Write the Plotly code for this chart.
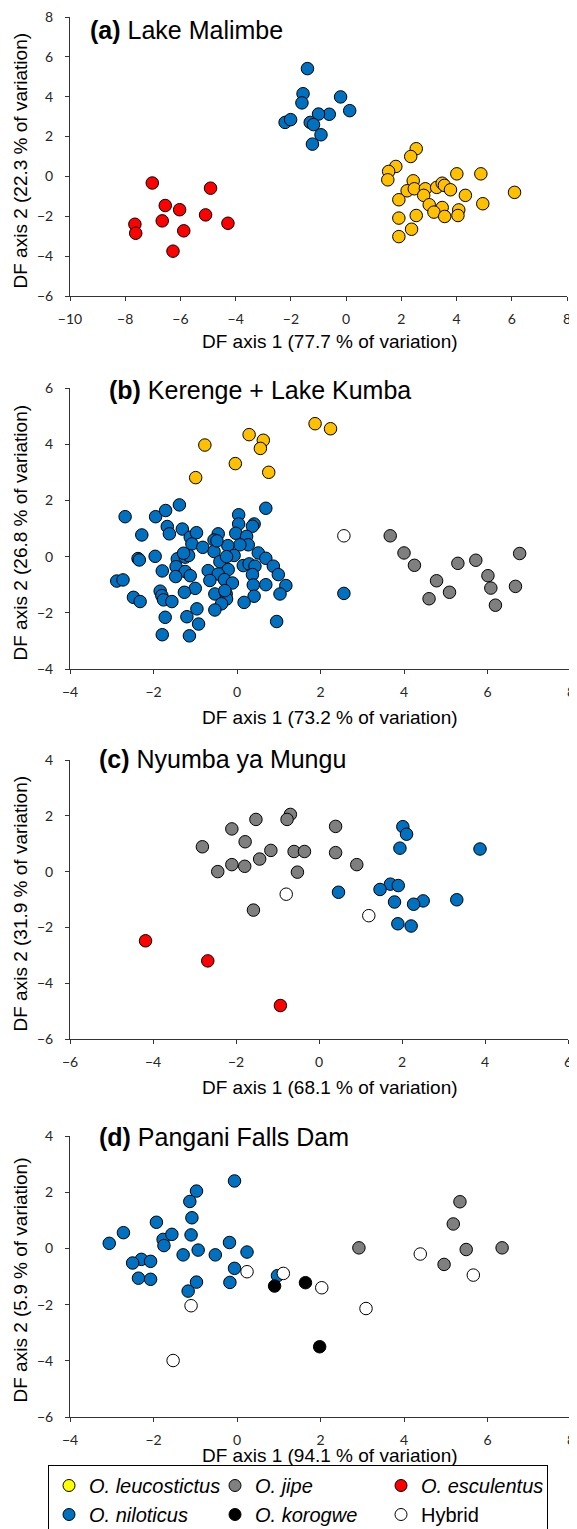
import plotly.graph_objects as go

# browser page keeps an 8 px body margin; the figure is sized so it fits the 577x1529 window
OFF = 8
W, H = 577 - OFF, 1529 - OFF

# ---------------- data ----------------
# Panel (a) Lake Malimbe
a_esc_x = [-7.02, -4.91, -6.55, -6.03, -5.09, -6.66, -4.28, -7.65, -5.88, -7.62, -6.27]
a_esc_y = [-0.33, -0.59, -1.46, -1.67, -1.93, -2.23, -2.35, -2.40, -2.73, -2.85, -3.75]
a_nil_x = [-1.40, -1.56, -1.60, -0.20, 0.13, -0.61, -1.00, -2.21, -2.01, -1.30, -1.18, -0.91, -1.22]
a_nil_y = [5.41, 4.15, 3.69, 3.99, 3.30, 3.12, 3.13, 2.71, 2.85, 2.71, 2.60, 2.09, 1.62]
a_leu_x = [2.54, 2.34, 1.80, 1.54, 1.51, 2.43, 4.01, 4.88, 2.21, 2.47, 2.87, 3.28, 3.48, 3.56, 3.78,
           4.32, 6.10, 2.81, 1.91, 3.01, 4.95, 3.48, 4.08, 3.18, 2.54, 3.57, 4.05, 1.91, 2.37, 1.91]
a_leu_y = [1.39, 1.00, 0.50, 0.25, -0.17, -0.22, 0.13, 0.13, -0.72, -0.62, -0.62, -0.55, -0.34, -0.45, -0.67,
           -0.95, -0.80, -0.95, -1.17, -1.42, -1.37, -1.56, -1.68, -1.79, -1.96, -2.01, -1.96, -2.09, -2.65, -3.02]

# Panel (b) Kerenge + Lake Kumba
b_leu_x = [1.87, 2.24, 0.29, 0.63, 0.56, -0.77, -0.04, 0.76, -0.99]
b_leu_y = [4.73, 4.55, 4.34, 4.14, 3.85, 3.97, 3.31, 3.00, 2.81]
b_hyb_x = [2.56]
b_hyb_y = [0.74]
b_jip_x = [3.67, 4.00, 4.25, 4.78, 4.60, 5.09, 5.29, 5.72, 6.01, 6.08, 6.19, 6.67, 6.77]
b_jip_y = [0.74, 0.13, -0.31, -0.86, -1.50, -1.27, -0.24, -0.13, -0.68, -1.12, -1.73, -1.06, 0.11]
b_nil_x = [-2.68, -1.95, -1.71, -1.38, -1.67, -1.62, -2.28, -1.31, -1.12, -0.97, -1.08, -1.96, -2.37,
           -2.34, -1.43, -1.24, -1.16, -1.46, -1.79, -1.24, -1.47, -1.12, -2.88, -2.73, -1.00, -1.26,
           -1.84, -1.80, -1.76, -1.56, -2.48, -2.32, -0.96, -1.20, -1.72, -0.92, -1.79, -1.14,
           0.69, 0.04, 0.04, 0.41, 0.37, -0.45, -0.55, -0.03, 0.23, 0.27, 0.07, -0.22, -0.82, -0.55,
           -0.07, 0.51, 0.69, -0.41, 0.15, 0.29, 0.43, 0.87, 0.99, -0.69, -0.21, -0.45, 0.37, -0.65,
           -0.30, -0.11, 0.39, 0.69, 1.17, -0.53, -0.26, -0.25, 0.41, 1.03, -0.37, 0.17, -0.53, 0.95,
           2.56, -0.48, -0.29, -1.28, -0.25]
b_nil_y = [1.42, 1.42, 1.64, 1.84, 1.07, 0.81, 0.77, 0.98, 0.69, 0.85, 0.45, 0.01, -0.07,
           -0.12, -0.08, -0.02, 0.04, -0.36, -0.51, -0.53, -0.71, -0.68, -0.87, -0.83, -1.13, -1.27,
           -1.23, -1.39, -1.54, -1.60, -1.45, -1.60, -1.86, -2.14, -2.16, -2.40, -2.78, -2.82,
           1.72, 1.49, 1.16, 1.16, 1.08, 0.81, 0.59, 0.83, 0.72, 0.42, 0.42, 0.39, 0.33, 0.18,
           0.04, 0.13, -0.06, -0.18, -0.32, -0.26, -0.34, -0.34, -0.64, -0.50, -0.46, -0.62, -0.64, -0.85,
           -0.82, -0.94, -1.01, -1.00, -1.03, -1.33, -1.33, -1.51, -1.41, -1.33, -1.68, -1.63, -1.90, -2.31,
           -1.31, 0.56, -1.21, 0.12, 0.00]

# Panel (c) Nyumba ya Mungu
c_esc_x = [-4.18, -2.68, -0.93]
c_esc_y = [-2.48, -3.20, -4.80]
c_hyb_x = [-0.79, 1.20]
c_hyb_y = [-0.81, -1.58]
c_jip_x = [-0.69, -0.77, -1.52, -2.10, 0.40, -1.78, -2.81, -1.16, -0.60, -0.35, 0.40, -1.43, -2.10,
           -1.79, 0.91, -2.44, -0.52, -1.58]
c_jip_y = [2.05, 1.87, 1.87, 1.53, 1.62, 1.07, 0.89, 0.76, 0.72, 0.72, 0.68, 0.45, 0.25,
           0.19, 0.25, 0.00, -0.02, -1.38]
c_nil_x = [2.02, 2.11, 1.95, 3.88, 1.72, 1.91, 1.47, 0.47, 1.82, 2.51, 2.28, 3.32, 1.90, 2.22]
c_nil_y = [1.61, 1.34, 0.84, 0.81, -0.45, -0.50, -0.64, -0.74, -1.09, -1.05, -1.17, -1.01, -1.87, -1.95]

# Panel (d) Pangani Falls Dam
d_jip_x = [5.34, 5.18, 2.92, 5.49, 6.35, 4.96]
d_jip_y = [1.66, 0.87, 0.02, -0.04, 0.02, -0.57]
d_hyb_x = [4.39, 5.66, 0.24, 1.11, 2.03, 3.09, -1.10, -1.53]
d_hyb_y = [-0.20, -0.95, -0.83, -0.89, -1.40, -2.14, -2.04, -3.99]
d_kor_x = [0.90, 1.64, 1.98]
d_kor_y = [-1.34, -1.22, -3.50]
d_nil_x = [-0.06, -0.97, -1.13, -1.08, -1.93, -2.72, -3.06, -1.77, -1.56, -1.75, -1.10, -0.18, -0.93,
           0.24, -1.29, -0.52, -2.29, -2.07, -2.50, -0.06, 0.97, -2.36, -2.07, -0.97, -0.17, -1.17]
d_nil_y = [2.40, 2.04, 1.67, 1.09, 0.93, 0.56, 0.18, 0.32, 0.50, 0.10, 0.48, 0.21, -0.06,
           -0.13, -0.23, -0.23, -0.39, -0.46, -0.52, -0.71, -0.97, -1.06, -1.10, -1.20, -1.21, -1.52]

panel_titles = ["(a)", "(b)", "(c)", "(d)"]
panel_names = ["Lake Malimbe", "Kerenge + Lake Kumba", "Nyumba ya Mungu", "Pangani Falls Dam"]
x_titles = ["DF axis 1 (77.7 % of variation)", "DF axis 1 (73.2 % of variation)",
            "DF axis 1 (68.1 % of variation)", "DF axis 1 (94.1 % of variation)"]
y_titles = ["DF axis 2 (22.3 % of variation)", "DF axis 2 (26.8 % of variation)",
            "DF axis 2 (31.9 % of variation)", "DF axis 2 (5.9 % of variation)"]
x_ranges = [(-10, 8), (-4, 8), (-6, 6), (-4, 8)]
y_ranges = [(-6, 8), (-4, 6), (-6, 4), (-6, 4)]

legend_names = ["<i>O. leucostictus</i>", "<i>O. jipe</i>", "<i>O. esculentus</i>",
                "<i>O. niloticus</i>", "<i>O. korogwe</i>", "Hybrid"]
legend_colors = ["#FFFF00", "#808080", "#FF0000", "#0070C0", "#000000", "#FFFFFF"]

# ---------------- style ----------------
COL = {"leu": "#FFC000", "nil": "#0070C0", "esc": "#FF0000", "jip": "#7F7F7F",
       "kor": "#000000", "hyb": "#FFFFFF"}
MS = 12.5


def px(x):  # page pixel -> paper x
    return (x - OFF) / W


def py(y):  # page pixel -> paper y
    return 1 - (y - OFF) / H


# page-pixel boxes of plot areas: (left, right, top, bottom)
boxes = [(70, 567, 17, 296), (70, 571, 388, 669), (70, 568, 760, 1039), (70, 571, 1136, 1417)]
title_pos = [(88, 30), (107, 390), (97, 759), (97, 1137)]
xtitle_y = [342, 717, 1087, 1455]

fig = go.Figure()

panels = [
    [("esc", a_esc_x, a_esc_y), ("nil", a_nil_x, a_nil_y), ("leu", a_leu_x, a_leu_y)],
    [("nil", b_nil_x, b_nil_y), ("leu", b_leu_x, b_leu_y), ("hyb", b_hyb_x, b_hyb_y), ("jip", b_jip_x, b_jip_y)],
    [("jip", c_jip_x, c_jip_y), ("nil", c_nil_x, c_nil_y), ("hyb", c_hyb_x, c_hyb_y), ("esc", c_esc_x, c_esc_y)],
    [("nil", d_nil_x, d_nil_y), ("jip", d_jip_x, d_jip_y), ("hyb", d_hyb_x, d_hyb_y), ("kor", d_kor_x, d_kor_y)],
]

for i, groups in enumerate(panels):
    sfx = "" if i == 0 else str(i + 1)
    for key, xs, ys in groups:
        fig.add_trace(go.Scatter(
            x=xs, y=ys, mode="markers", showlegend=False, hoverinfo="skip",
            xaxis="x" + sfx, yaxis="y" + sfx,
            marker=dict(size=MS, color=COL[key], line=dict(color="#000000", width=1)),
        ))

# legend-only entries
for rank, (nm, c) in enumerate(zip(legend_names, legend_colors)):
    fig.add_trace(go.Scatter(
        x=[None], y=[None], mode="markers", name=nm, legendrank=rank + 1,
        marker=dict(size=12, color=c, line=dict(color="#000000", width=1)),
    ))

tickfont = dict(family="Lato, Open Sans, sans-serif", size=14, color="#262626")
layout = dict(
    width=W, height=H, margin=dict(l=0, r=0, t=0, b=0, autoexpand=False),
    paper_bgcolor="white", plot_bgcolor="white",
    showlegend=True,
    legend=dict(
        orientation="h", xref="container", yref="container",
        x=(48 - OFF) / W, xanchor="left", y=1 - (1465 - OFF) / H, yanchor="top",
        bordercolor="#000000", borderwidth=1, bgcolor="white",
        font=dict(family="Liberation Sans, Arial, sans-serif", size=20, color="#000000"),
        entrywidth=121, tracegroupgap=0, itemwidth=30,
    ),
)

annotations = []
for i in range(4):
    sfx = "" if i == 0 else str(i + 1)
    l, r, t, b = boxes[i]
    ax_common = dict(showgrid=False, zeroline=False, showline=True, linecolor="#333333", linewidth=1,
                     ticks="outside", ticklen=4, tickcolor="#333333", tickwidth=1,
                     tickfont=tickfont, dtick=2, ticklabeloverflow="allow", automargin=False)
    layout["xaxis" + sfx] = dict(ax_common, domain=[px(l), px(r)], range=list(x_ranges[i]),
                                 anchor="y" + sfx, ticklabelstandoff=6)
    layout["yaxis" + sfx] = dict(ax_common, domain=[py(b), py(t)], range=list(y_ranges[i]),
                                 anchor="x" + sfx, ticklabelstandoff=9)
    tx, ty = title_pos[i]
    annotations.append(dict(
        xref="paper", yref="paper", x=px(tx), y=py(ty), xanchor="left", yanchor="middle",
        showarrow=False, text="<b>" + panel_titles[i] + "</b> " + panel_names[i],
        font=dict(family="Liberation Sans, Arial, sans-serif", size=25, color="#000000"),
    ))
    annotations.append(dict(
        xref="paper", yref="paper", x=px(330), y=py(xtitle_y[i]), xanchor="center", yanchor="middle",
        showarrow=False, text=x_titles[i],
        font=dict(family="Liberation Sans, Arial, sans-serif", size=19, color="#000000"),
    ))
    annotations.append(dict(
        xref="paper", yref="paper", x=px(20), y=py((t + b) / 2 + 4), xanchor="center", yanchor="middle",
        showarrow=False, text=y_titles[i], textangle=-90,
        font=dict(family="Liberation Sans, Arial, sans-serif", size=19, color="#000000"),
    ))
layout["annotations"] = annotations
fig.update_layout(**layout)

fig.write_html("out.html")
